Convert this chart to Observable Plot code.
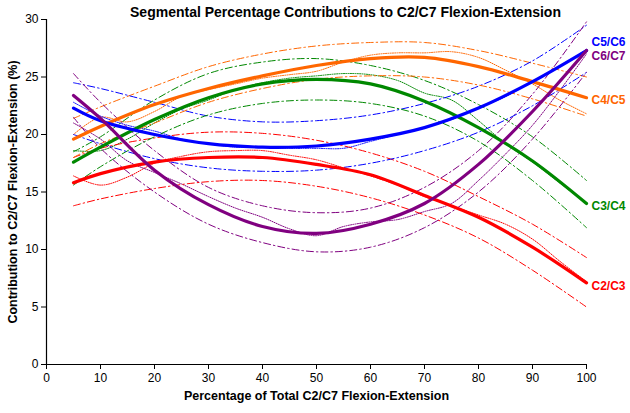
<!DOCTYPE html>
<html>
<head>
<meta charset="utf-8">
<script src="https://cdn.jsdelivr.net/npm/d3@7"></script>
<script src="https://cdn.jsdelivr.net/npm/@observablehq/plot@0.6"></script>
<style>
  html, body { margin: 0; padding: 0; background: #fff; }
  #chart svg { display: block; }
</style>
</head>
<body>
<div id="chart"></div>
<script>
// ---- data ----
const segments = ["C2/C3", "C3/C4", "C4/C5", "C5/C6", "C6/C7"];
const colors = ["#ff0000", "#008800", "#ff6600", "#0000ff", "#800080"];
const xFit = [5, 10, 20, 30, 40, 50, 60, 70, 80, 90, 100];
const xRaw = [5, 10, 15, 20, 25, 30, 35, 40, 45, 50, 55, 60, 65, 70, 75, 80, 85, 90, 95, 100];

const meanC23 = [15.8, 16.6, 17.6, 18.0, 18.0, 17.4, 16.5, 14.7, 12.8, 10.2, 7.1];
const upperC23 = [18.0, 18.8, 19.7, 20.2, 20.1, 19.5, 18.4, 16.8, 14.6, 12.2, 9.3];
const lowerC23 = [13.8, 14.4, 15.3, 15.9, 16.0, 15.5, 14.5, 13.0, 11.0, 8.2, 5.0];
const rawC23 = [16.4, 15.6, 16.3, 17.5, 18.1, 18.5, 18.6, 18.6, 18.2, 17.8, 17.1, 16.4, 15.6, 14.6, 13.8, 13.0, 12.2, 10.9, 9.0, 7.2];

const meanC34 = [17.6, 18.9, 21.3, 23.2, 24.4, 24.8, 24.4, 22.9, 20.6, 17.7, 14.0];
const upperC34 = [18.5, 19.8, 23.0, 25.3, 26.3, 26.6, 26.0, 24.7, 22.6, 19.8, 16.0];
const lowerC34 = [15.6, 17.2, 19.8, 21.7, 22.7, 23.0, 22.7, 21.6, 19.4, 16.0, 11.9];
const rawC34 = [18.6, 18.6, 19.6, 21.0, 22.2, 23.0, 23.9, 24.5, 24.9, 25.1, 25.3, 25.2, 24.7, 23.6, 23.0, 21.2, 19.2, 17.6, 15.8, 14.0];

const meanC45 = [19.6, 20.7, 22.6, 24.0, 25.1, 26.0, 26.6, 26.7, 25.9, 24.6, 23.2];
const upperC45 = [21.4, 22.4, 24.2, 25.9, 27.0, 27.7, 28.0, 28.0, 27.3, 26.2, 25.0];
const lowerC45 = [18.0, 19.2, 21.0, 22.8, 24.0, 24.8, 25.1, 25.0, 24.3, 23.1, 21.6];
const rawC45 = [20.0, 21.5, 21.1, 22.0, 23.3, 23.9, 24.4, 24.9, 25.2, 25.5, 26.3, 26.9, 27.1, 27.1, 27.2, 26.7, 25.6, 24.4, 23.0, 21.8];

const meanC56 = [22.3, 21.2, 20.0, 19.2, 18.9, 19.0, 19.6, 20.6, 22.3, 24.6, 27.3];
const upperC56 = [24.5, 24.0, 22.8, 21.6, 21.1, 21.2, 21.7, 22.7, 24.2, 26.4, 29.5];
const lowerC56 = [20.0, 19.2, 17.9, 17.1, 16.8, 16.9, 17.5, 18.6, 20.2, 22.5, 25.4];
const rawC56 = [22.8, 21.6, 20.8, 20.3, 19.6, 19.2, 18.9, 18.9, 18.8, 18.8, 18.8, 19.4, 20.0, 20.6, 21.3, 22.3, 23.3, 24.6, 25.9, 27.4];

const meanC67 = [23.4, 21.4, 16.9, 13.9, 12.0, 11.4, 12.2, 14.0, 17.4, 22.0, 27.3];
const upperC67 = [25.3, 22.8, 18.6, 15.4, 13.8, 13.2, 13.6, 15.4, 18.6, 23.5, 29.8];
const lowerC67 = [21.5, 18.8, 15.0, 12.2, 10.6, 9.8, 10.2, 11.9, 15.0, 19.6, 25.4];
const rawC67 = [21.0, 19.6, 17.7, 16.7, 15.7, 14.6, 13.6, 12.8, 11.8, 11.2, 12.0, 12.4, 12.6, 13.3, 14.0, 16.0, 18.3, 20.8, 23.8, 27.0];

const labelY = [6.8, 13.8, 23.0, 28.0, 26.8];
const xTicks = [0, 10, 20, 30, 40, 50, 60, 70, 80, 90, 100];
const yTicks = [0, 5, 10, 15, 20, 25, 30];

// ---- build tables ----
const means = [meanC23, meanC34, meanC45, meanC56, meanC67];
const uppers = [upperC23, upperC34, upperC45, upperC56, upperC67];
const lowers = [lowerC23, lowerC34, lowerC45, lowerC56, lowerC67];
const raws = [rawC23, rawC34, rawC45, rawC56, rawC67];

const fitRows = (arrs, kind) => arrs.flatMap((vals, i) =>
  vals.map((v, j) => ({seg: segments[i], kind, x: xFit[j], y: v})));
const meanRows = fitRows(means, "mean");
const boundRows = [...fitRows(uppers, "upper"), ...fitRows(lowers, "lower")];
const rawRows = raws.flatMap((vals, i) => vals.map((v, j) => ({seg: segments[i], x: xRaw[j], y: v})));
const labelRows = segments.map((s, i) => ({seg: s, y: labelY[i]}));

const colorScale = {domain: segments, range: colors};
const font = "'Liberation Sans', Arial, Helvetica, sans-serif";

const chart = Plot.plot({
  width: 630,
  height: 413,
  marginTop: 19,
  marginLeft: 46,
  marginRight: 44,
  marginBottom: 49,
  style: {fontFamily: font, fontSize: "12px", color: "#000", background: "#fff"},
  x: {domain: [0, 100]},
  y: {domain: [0, 30]},
  color: colorScale,
  marks: [
    Plot.axisX({ticks: xTicks, tickSize: 5, tickPadding: 4, label: null, fontSize: 12}),
    Plot.axisY({ticks: yTicks, tickSize: 5, tickPadding: 3, label: null, fontSize: 12}),
    Plot.ruleY([0], {stroke: "#000", strokeWidth: 1.2}),
    Plot.ruleX([0], {y1: 0, y2: 30, stroke: "#000", strokeWidth: 1.2}),
    Plot.line(rawRows, {x: "x", y: "y", z: "seg", stroke: "seg", strokeWidth: 1, strokeDasharray: "1,1.3", curve: "catmull-rom"}),
    Plot.line(boundRows, {x: "x", y: "y", z: d => d.seg + d.kind, stroke: "seg", strokeWidth: 1, strokeDasharray: "7,3,1.5,3", curve: "catmull-rom"}),
    Plot.line(meanRows, {x: "x", y: "y", z: "seg", stroke: "seg", strokeWidth: 3.2, curve: "catmull-rom"}),
    Plot.text(labelRows, {x: () => 100, y: "y", text: "seg", fill: "seg", dx: 5, textAnchor: "start", fontWeight: "bold", fontSize: 12}),
    Plot.text(["Segmental Percentage Contributions to C2/C7 Flexion-Extension"], {frameAnchor: "top", dx: 29, dy: -12, textAnchor: "middle", fontWeight: "bold", fontSize: 14, text: d => d}),
    Plot.text(["Percentage of Total C2/C7 Flexion-Extension"], {frameAnchor: "bottom", dy: 35, textAnchor: "middle", fontWeight: "bold", fontSize: 12.5, text: d => d}),
    Plot.text(["Contribution to C2/C7 Flexion-Extension (%)"], {frameAnchor: "left", dx: -34, rotate: -90, textAnchor: "middle", fontWeight: "bold", fontSize: 12.5, text: d => d})
  ]
});
document.getElementById("chart").appendChild(chart);
</script>
</body>
</html>
